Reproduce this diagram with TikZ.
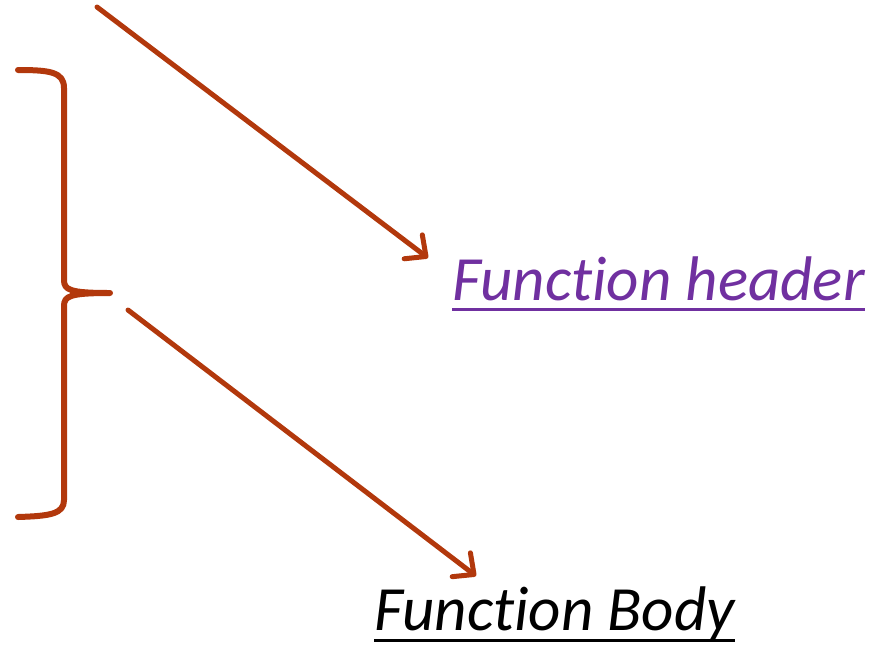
\documentclass[tikz,border=0pt]{standalone}
\usepackage{fontspec}
\setmainfont[RawFeature={-liga;-dlig}]{Carlito}
\usetikzlibrary{arrows.meta}
\definecolor{rust}{RGB}{178,56,12}
\definecolor{violet}{RGB}{112,48,160}
\tikzset{
  pointer/.style={draw=rust, line width=5pt, line cap=round,
    -{Straight Barb[length=16pt, width=30pt, line width=5pt, round]}},
  bracket/.style={draw=rust, line width=6pt, line cap=round, line join=round},
  label/.style={inner sep=0pt, anchor=base west, font=\itshape\fontsize{63}{76}\selectfont},
  uline/.style={line width=3pt}
}
\begin{document}
\begin{tikzpicture}[x=1pt, y=-1pt]
  \useasboundingbox (0,0) rectangle (888,646);

  % curly bracket
  \draw[bracket] (18,70) .. controls (50,70) and (64,72) .. (64,88)
    -- (64,280) .. controls (64,290) and (70,293) .. (110,293)
    .. controls (70,293) and (64,296) .. (64,306)
    -- (64,500) .. controls (64,514) and (50,516) .. (18,517);

  % labels
  \node[label, text=violet] (hdr) at (452,300) {Function header};
  \node[label, text=black] (body) at (374,630) {Function Body};
  \draw[uline, draw=violet] ([yshift=-9pt]hdr.base west) -- ([yshift=-9pt]hdr.base east);
  \draw[uline, draw=black] ([yshift=-10pt]body.base west) -- ([yshift=-10pt]body.base east);

  % pointers
  \coordinate (s1) at (97,7);
  \coordinate (t1) at (428,258);
  \coordinate (s2) at (128,310);
  \coordinate (t2) at (476,576);
  \draw[pointer] (s1) -- (t1);
  \draw[pointer] (s2) -- (t2);
\end{tikzpicture}
\end{document}
